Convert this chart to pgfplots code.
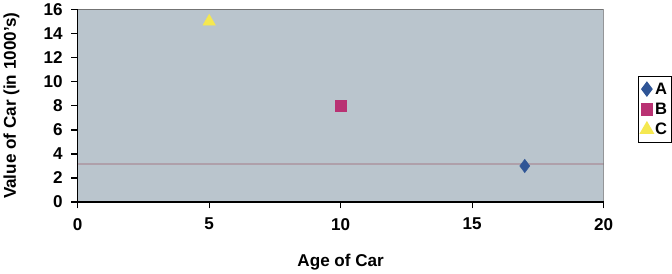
\documentclass[border=0pt]{standalone}
\usepackage{pgfplots}
\pgfplotsset{compat=1.18}
\usepackage{fontspec}
\setmainfont{Liberation Sans}
\definecolor{bgc}{RGB}{186,197,205}
\definecolor{ca}{RGB}{47,85,150}
\definecolor{cb}{RGB}{185,50,115}
\definecolor{cc}{RGB}{245,232,80}
\definecolor{artc}{RGB}{175,160,170}
\begin{document}
\begin{tikzpicture}
\begin{axis}[
  axis on top,
  scale only axis, width=508bp, height=186bp,
  xmin=0, xmax=20, ymin=0, ymax=16,
  xtick={0,5,10,15,20}, ytick={0,2,...,16},
  axis lines=left,
  axis line style={black, line width=1.3bp, -},
  tick align=outside, major tick length=6bp,
  major tick style={black, line width=1.3bp},
  /pgf/number format/assume math mode=true,
  ticklabel style={font=\fontsize{16.5bp}{20bp}\selectfont\bfseries},
  yticklabel style={xshift=-5bp},
  xticklabel style={yshift=-6bp},
  xlabel={Age of Car}, ylabel={Value of Car (in 1000's)},
  label style={font=\fontsize{16.5bp}{19bp}\selectfont\bfseries},
  xlabel style={at={(axis description cs:0.5,-0.312)}, anchor=center},
  ylabel style={at={(axis description cs:-0.126,0.5)}, anchor=center},
  legend style={at={(rel axis cs:1.065,0.656)}, anchor=north west, draw=black,
    line width=1.3bp, fill=white, font=\fontsize{16bp}{19bp}\selectfont\bfseries,
    row sep=3bp, inner xsep=2bp, inner ysep=4bp},
  legend image code/.code={\draw[#1] plot coordinates {(0.15cm,0cm)};},
  legend cell align=left,
]
\fill[bgc] (rel axis cs:0,0) rectangle (rel axis cs:1,1);
\draw[artc, line width=1.5bp] (axis cs:0,3.18) -- (axis cs:20,3.18);
\draw[black!55, line width=1bp] (rel axis cs:0,1) -- (rel axis cs:1,1) -- (rel axis cs:1,0);
\addplot[only marks, mark=diamond*, mark size=6.5bp, mark options={fill=ca, draw=ca}] coordinates {(17,3)};
\addlegendentry{A}
\addplot[only marks, mark=square*, mark size=5.5bp, mark options={fill=cb, draw=cb}] coordinates {(10,8)};
\addlegendentry{B}
\addplot[only marks, mark=triangle*, mark size=7bp, mark options={fill=cc, draw=cc}] coordinates {(5,15)};
\addlegendentry{C}
\end{axis}
\end{tikzpicture}
\end{document}
